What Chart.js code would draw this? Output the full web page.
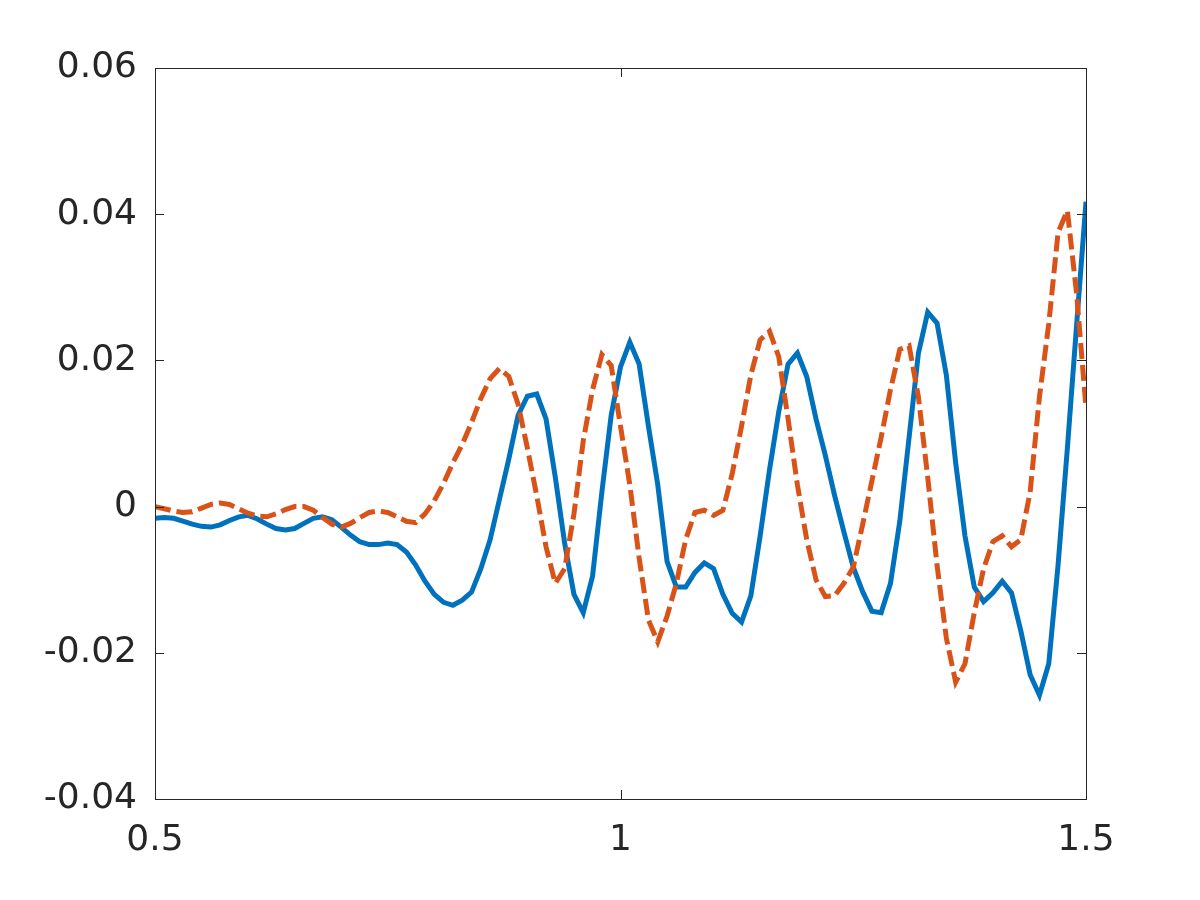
<!DOCTYPE html>
<html>
<head>
<meta charset="utf-8">
<script src="https://cdn.jsdelivr.net/npm/chart.js@4.4.1/dist/chart.umd.min.js"></script>
<style>
  html, body { margin: 0; padding: 0; background: #fff; }
  #wrap { width: 1200px; height: 900px; }
</style>
</head>
<body>
<div id="wrap"><canvas id="plot" width="1200" height="900"></canvas></div>
<script>
// x positions (step 0.01)
const xValues = [
  0.50, 0.51, 0.52, 0.53, 0.54, 0.55, 0.56, 0.57, 0.58, 0.59,
  0.60, 0.61, 0.62, 0.63, 0.64, 0.65, 0.66, 0.67, 0.68, 0.69,
  0.70, 0.71, 0.72, 0.73, 0.74, 0.75, 0.76, 0.77, 0.78, 0.79,
  0.80, 0.81, 0.82, 0.83, 0.84, 0.85, 0.86, 0.87, 0.88, 0.89,
  0.90, 0.91, 0.92, 0.93, 0.94, 0.95, 0.96, 0.97, 0.98, 0.99,
  1.00, 1.01, 1.02, 1.03, 1.04, 1.05, 1.06, 1.07, 1.08, 1.09,
  1.10, 1.11, 1.12, 1.13, 1.14, 1.15, 1.16, 1.17, 1.18, 1.19,
  1.20, 1.21, 1.22, 1.23, 1.24, 1.25, 1.26, 1.27, 1.28, 1.29,
  1.30, 1.31, 1.32, 1.33, 1.34, 1.35, 1.36, 1.37, 1.38, 1.39,
  1.40, 1.41, 1.42, 1.43, 1.44, 1.45, 1.46, 1.47, 1.48, 1.49,
  1.50
];

// solid blue series
const blueValues = [
  -0.0016, -0.0015, -0.0016, -0.0020, -0.0024, -0.0027, -0.0028, -0.0025, -0.0019, -0.0014,
  -0.0012, -0.0017, -0.0024, -0.0030, -0.0032, -0.0030, -0.0023, -0.0016, -0.0014, -0.0018,
  -0.0028, -0.0039, -0.0048, -0.0052, -0.0052, -0.0050, -0.0052, -0.0062, -0.0080, -0.0102,
  -0.0120, -0.0131, -0.0135, -0.0128, -0.0117, -0.0085, -0.0045, 0.0010, 0.0065, 0.0125,
  0.0151, 0.0154, 0.0120, 0.0040, -0.0050, -0.0120, -0.0145, -0.0095, 0.0020, 0.0125,
  0.0191, 0.0225, 0.0195, 0.0110, 0.0030, -0.0075, -0.0110, -0.0110, -0.0090, -0.0077,
  -0.0085, -0.0120, -0.0146, -0.0158, -0.0122, -0.0040, 0.0050, 0.0130, 0.0195, 0.0210,
  0.0178, 0.0120, 0.0070, 0.0015, -0.0035, -0.0083, -0.0116, -0.0143, -0.0145, -0.0105,
  -0.0020, 0.0095, 0.0210, 0.0266, 0.0251, 0.0180, 0.0060, -0.0040, -0.0110, -0.0130,
  -0.0118, -0.0102, -0.0118, -0.0170, -0.0230, -0.0258, -0.0215, -0.0080, 0.0080, 0.0250,
  0.0417
];

// dashed orange series
const orangeValues = [
  0.0000, -0.0003, -0.0006, -0.0008, -0.0007, -0.0002, 0.0003, 0.0005, 0.0003, -0.0003,
  -0.0009, -0.0013, -0.0014, -0.0010, -0.0004, 0.0000, 0.0000, -0.0005, -0.0015, -0.0024,
  -0.0028, -0.0023, -0.0015, -0.0008, -0.0006, -0.0008, -0.0014, -0.0020, -0.0022, -0.0010,
  0.0008, 0.0032, 0.0060, 0.0085, 0.0115, 0.0148, 0.0175, 0.0189, 0.0178, 0.0140,
  0.0080, 0.0015, -0.0055, -0.0105, -0.0085, -0.0010, 0.0090, 0.0160, 0.0208, 0.0193,
  0.0110, 0.0030, -0.0070, -0.0155, -0.0185, -0.0150, -0.0105, -0.0045, -0.0008, -0.0005,
  -0.0012, -0.0005, 0.0045, 0.0110, 0.0180, 0.0228, 0.0240, 0.0205, 0.0120, 0.0030,
  -0.0045, -0.0100, -0.0123, -0.0122, -0.0105, -0.0083, -0.0025, 0.0035, 0.0095, 0.0160,
  0.0215, 0.0220, 0.0150, 0.0040, -0.0080, -0.0180, -0.0240, -0.0215, -0.0145, -0.0085,
  -0.0048, -0.0040, -0.0055, -0.0045, 0.0020, 0.0150, 0.0250, 0.0375, 0.0405, 0.0290,
  0.0135
];

const xTicks = [0.5, 1, 1.5];
const yTicks = [-0.04, -0.02, 0, 0.02, 0.04, 0.06];

const toPoints = (ys) => xValues.map((x, i) => ({ x: x, y: ys[i] }));
const fmt = (v) => String(+Number(v).toFixed(4));

// MATLAB-like box with inward ticks
const boxPlugin = {
    id: 'boxTicks',
    afterDraw(chart) {
        const { ctx, chartArea: a, scales } = chart;
        const len = 9;
        ctx.save();
        ctx.strokeStyle = '#262626';
        ctx.lineWidth = 1;
        ctx.strokeRect(a.left + 0.5, a.top + 0.5, a.right - a.left, a.bottom - a.top);
        ctx.beginPath();
        xTicks.forEach(v => {
            const px = Math.round(scales.x.getPixelForValue(v)) + 0.5;
            ctx.moveTo(px, a.bottom); ctx.lineTo(px, a.bottom - len);
            ctx.moveTo(px, a.top); ctx.lineTo(px, a.top + len);
        });
        yTicks.forEach(v => {
            const py = Math.round(scales.y.getPixelForValue(v)) + 0.5;
            ctx.moveTo(a.left, py); ctx.lineTo(a.left + len, py);
            ctx.moveTo(a.right, py); ctx.lineTo(a.right - len, py);
        });
        ctx.stroke();
        ctx.restore();
    }
};

const tickFont = { family: 'DejaVu Sans', size: 36 };

new Chart(document.getElementById('plot'), {
    type: 'line',
    data: {
        datasets: [
            {
                data: toPoints(orangeValues),
                borderColor: '#D95319',
                borderWidth: 5,
                borderDash: [16, 6],
                pointRadius: 0,
                tension: 0,
                order: 0
            },
            {
                data: toPoints(blueValues),
                borderColor: '#0072BD',
                borderWidth: 5,
                pointRadius: 0,
                tension: 0,
                order: 1
            }
        ]
    },
    options: {
        responsive: false,
        animation: false,
        layout: { padding: { left: 0, top: 68, right: 114, bottom: 0 } },
        plugins: { legend: { display: false }, tooltip: { enabled: false } },
        scales: {
            x: {
                type: 'linear',
                min: 0.5, max: 1.5,
                afterFit: (s) => { s.height = 101; },
                afterBuildTicks: (s) => { s.ticks = xTicks.map(v => ({ value: v })); },
                grid: { display: false, drawTicks: false },
                border: { display: false },
                ticks: { color: '#262626', font: tickFont, padding: 20, callback: fmt, maxRotation: 0 }
            },
            y: {
                min: -0.04, max: 0.06,
                afterFit: (s) => { s.width = 155; },
                afterBuildTicks: (s) => { s.ticks = yTicks.map(v => ({ value: v })); },
                grid: { display: false, drawTicks: false },
                border: { display: false },
                ticks: { color: '#262626', font: tickFont, padding: 18, callback: fmt }
            }
        }
    },
    plugins: [boxPlugin]
});
</script>
</body>
</html>
